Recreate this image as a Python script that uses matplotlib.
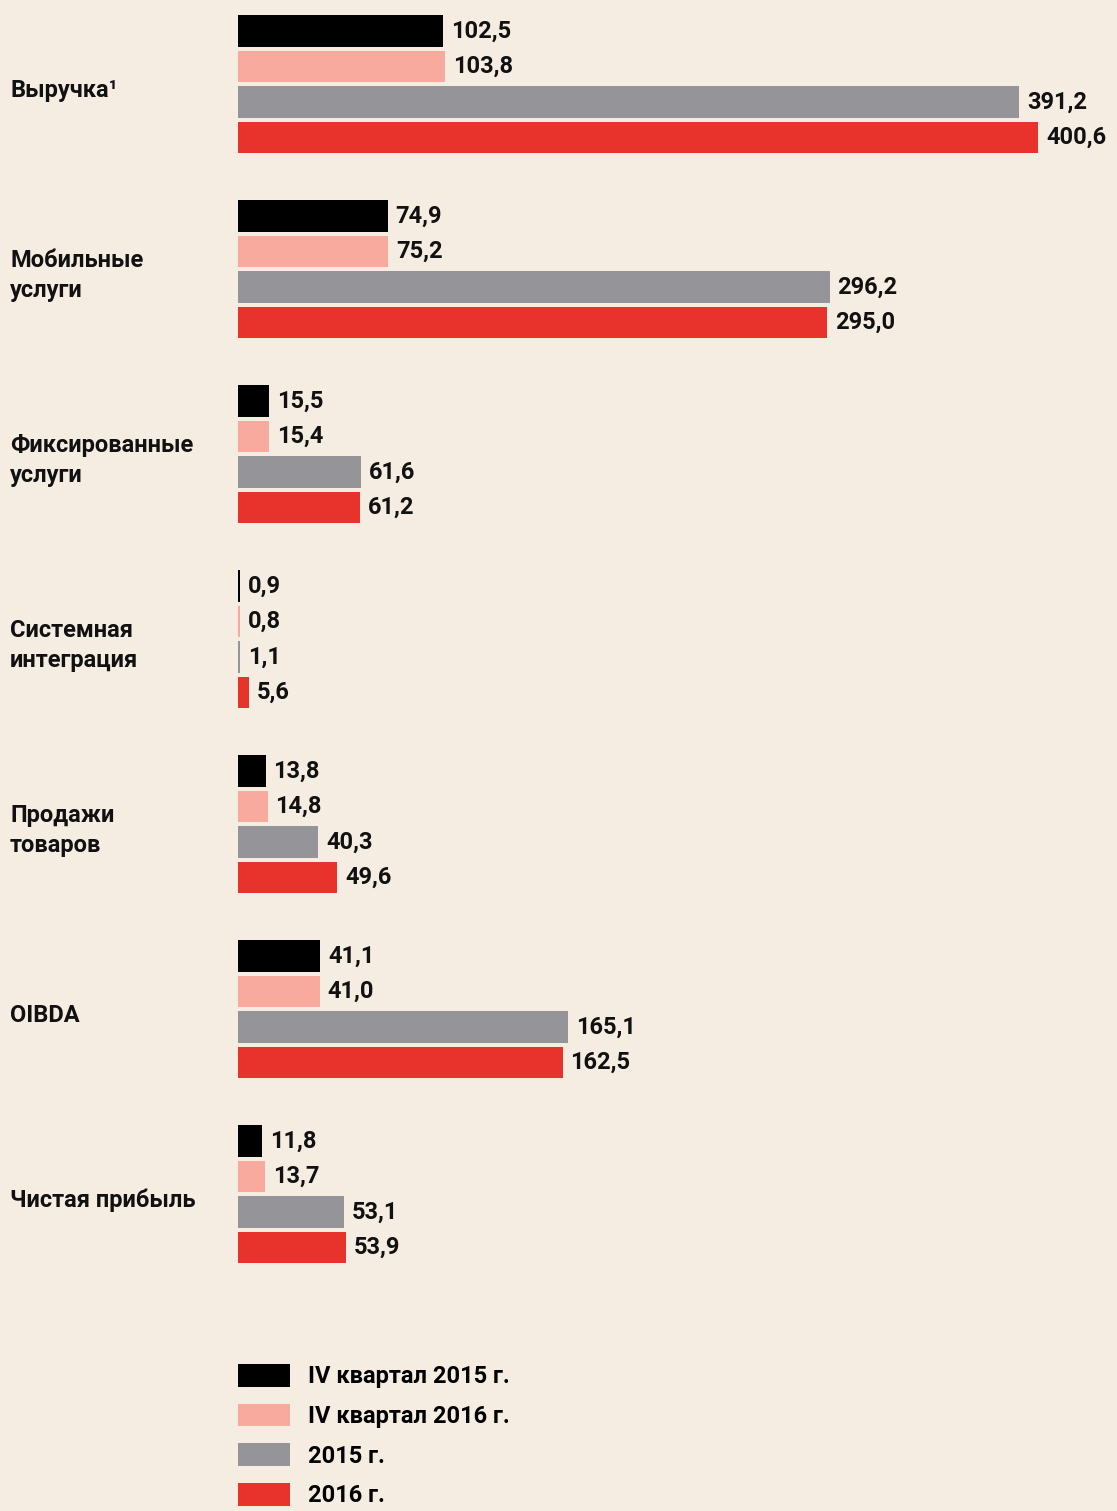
import matplotlib
matplotlib.use("Agg")
import matplotlib.pyplot as plt
from matplotlib.patches import Patch

plt.rcParams['font.family'] = ['Roboto', 'DejaVu Sans']

categories = ["Выручка¹", "Мобильные\nуслуги", "Фиксированные\nуслуги",
              "Системная\nинтеграция", "Продажи\nтоваров", "OIBDA", "Чистая прибыль"]
series_names = ["IV квартал 2015 г.", "IV квартал 2016 г.", "2015 г.", "2016 г."]
q4_2015 = [102.5, 74.9, 15.5, 0.9, 13.8, 41.1, 11.8]
q4_2016 = [103.8, 75.2, 15.4, 0.8, 14.8, 41.0, 13.7]
y2015 = [391.2, 296.2, 61.6, 1.1, 40.3, 165.1, 53.1]
y2016 = [400.6, 295.0, 61.2, 5.6, 49.6, 162.5, 53.9]
series = [q4_2015, q4_2016, y2015, y2016]
colors = ["#000000", "#F9AA9E", "#959599", "#E8322C"]
bg = "#F5EDE1"

W, H = 1117, 1511
fig = plt.figure(figsize=(W / 100, H / 100), dpi=100, facecolor=bg)
left_px = 238
ax = fig.add_axes([left_px / W, 0, 1 - left_px / W, 1])
ax.set_facecolor(bg)
px_per_unit = 800 / 400.6
ax.set_xlim(0, (W - left_px) / px_per_unit)
slot = 35.5
ax.set_ylim(H / slot, 0)
ax.axis("off")

first = 31 / slot
group = 185 / slot
fs = 17
for g, cat in enumerate(categories):
    for s, vals in enumerate(series):
        y = first + g * group + s
        v = vals[g]
        ax.barh(y, v, height=0.9, color=colors[s], edgecolor="none")
        ax.text(v + 8 / px_per_unit, y, f"{v:.1f}".replace(".", ","),
                va="center", ha="left", fontsize=fs, fontweight="bold", color="#111111")
    yc = first + g * group + 1.5 + 6 / slot
    fig.text(10 / W, 1 - (yc * slot) / H, cat, ha="left", va="center",
             fontsize=fs, fontweight="bold", color="#111111", linespacing=1.4)

handles = [Patch(facecolor=c, edgecolor="none") for c in colors]
fig.legend(handles, series_names, loc="upper left",
           bbox_to_anchor=(left_px / W, 1 - 1364 / H), frameon=False,
           prop={"weight": "bold", "size": fs},
           handlelength=2.2, handleheight=1.1, handletextpad=0.75,
           labelspacing=0.65, borderpad=0, borderaxespad=0)

fig.savefig("out.png", dpi=100, facecolor=bg)
